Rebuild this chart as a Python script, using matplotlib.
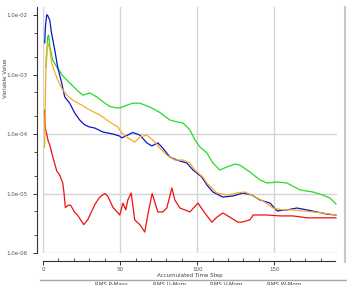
import matplotlib
matplotlib.use("Agg")
import matplotlib.pyplot as plt
from matplotlib.lines import Line2D
import numpy as np

# ---- data ----
p_mass_x = [1.0, 1.6, 2.6, 3.2, 4.4, 6.5, 8.9, 10.8, 12.8, 13.5, 14.5, 16.5, 18.0, 20.6, 22.5,
            26.4, 29.0, 33.6, 36.8, 40.1, 42.1, 45.3, 49.8, 51.8, 53.7, 55.0, 57.2, 59.5, 62.8,
            66.0, 68.2, 70.8, 74.5, 77.7, 80.3, 83.6, 85.5, 88.8, 95.3, 100.5, 105.0, 109.5,
            112.8, 116.7, 121.2, 126.4, 129.0, 134.2, 135.5, 136.2, 145.3, 153.8, 162.1, 171.2,
            179.7, 190.0]
p_mass_y = [2.5e-4, 1.2e-4, 9.6e-5, 7.9e-5, 6.5e-5, 4.0e-5, 2.4e-5, 2.05e-5, 1.5e-5, 1.1e-5,
            5.8e-6, 6.4e-6, 6.3e-6, 4.8e-6, 4.3e-6, 3.0e-6, 3.6e-6, 6.5e-6, 8.7e-6, 1.0e-5,
            8.9e-6, 5.9e-6, 4.35e-6, 6.9e-6, 5.3e-6, 7.8e-6, 1.02e-5, 3.6e-6, 3.0e-6, 2.25e-6,
            4.7e-6, 1.0e-5, 4.9e-6, 4.9e-6, 5.7e-6, 1.24e-5, 7.8e-6, 5.7e-6, 4.9e-6, 6.9e-6,
            4.7e-6, 3.3e-6, 4.0e-6, 4.7e-6, 4.0e-6, 3.3e-6, 3.3e-6, 3.6e-6, 4.0e-6, 4.35e-6,
            4.35e-6, 4.2e-6, 4.2e-6, 3.9e-6, 3.9e-6, 3.9e-6]

u_mom_x = [2.0, 2.6, 3.0, 3.7, 4.4, 6.3, 8.9, 12.8, 17.3, 21.9, 25.8, 30.3, 34.9, 38.8, 43.3,
           47.9, 49.8, 53.7, 58.2, 62.8, 69.3, 75.8, 82.3, 86.8, 90.8, 95.3, 98.5, 101.8, 106.3,
           110.2, 114.7, 119.3, 124.5, 127.7, 134.2, 140.7, 145.3, 151.8, 158.2, 166.7, 175.1,
           181.6, 186.2, 190.0]
u_mom_y = [1.3e-3, 2.5e-3, 4.3e-3, 4.6e-3, 3.0e-3, 1.75e-3, 1.34e-3, 9.5e-4, 7.2e-4, 5.5e-4,
           4.5e-4, 4.9e-4, 4.2e-4, 3.5e-4, 2.9e-4, 2.74e-4, 2.74e-4, 3.0e-4, 3.3e-4, 3.3e-4,
           2.84e-4, 2.3e-4, 1.72e-4, 1.6e-4, 1.53e-4, 1.17e-4, 8.0e-5, 6.05e-5, 4.8e-5, 3.26e-5,
           2.48e-5, 2.79e-5, 3.13e-5, 3.0e-5, 2.3e-5, 1.69e-5, 1.5e-5, 1.56e-5, 1.5e-5, 1.15e-5,
           1.06e-5, 9.4e-6, 8.4e-6, 6.7e-6]

v_mom_x = [1.1, 1.6, 2.4, 2.9, 4.4, 5.5, 7.6, 9.5, 12.1, 14.1, 17.3, 20.6, 23.8, 27.1, 30.3,
           33.6, 38.8, 45.3, 49.8, 51.1, 55.0, 58.2, 62.8, 67.3, 70.6, 74.5, 77.7, 82.3, 86.8,
           93.3, 97.3, 103.0, 106.3, 110.2, 116.7, 123.2, 129.7, 135.5, 140.7, 147.3, 151.8,
           158.2, 164.7, 171.2, 177.7, 184.2, 190.0]
v_mom_y = [3.4e-3, 6.5e-3, 1.0e-2, 1.0e-2, 8.2e-3, 5.0e-3, 2.6e-3, 1.34e-3, 7.2e-4, 4.2e-4,
           3.3e-4, 2.25e-4, 1.72e-4, 1.42e-4, 1.31e-4, 1.26e-4, 1.08e-4, 1.0e-4, 9.2e-5, 8.6e-5,
           9.6e-5, 1.06e-4, 9.6e-5, 7.1e-5, 6.3e-5, 7.1e-5, 5.8e-5, 4.1e-5, 3.65e-5, 3.26e-5,
           2.48e-5, 1.89e-5, 1.39e-5, 1.06e-5, 8.7e-6, 9.1e-6, 1.02e-5, 9.4e-6, 7.8e-6, 6.9e-6,
           5.1e-6, 5.3e-6, 5.7e-6, 5.3e-6, 4.9e-6, 4.5e-6, 4.35e-6]

w_mom_x = [1.0, 2.0, 3.2, 4.4, 5.6, 7.6, 9.5, 12.1, 15.4, 19.3, 25.1, 30.3, 36.8, 43.3, 48.5,
           51.1, 55.0, 57.5, 59.5, 62.8, 67.3, 71.2, 75.8, 80.3, 85.5, 90.8, 95.3, 98.5, 103.7,
           106.3, 112.8, 119.3, 125.8, 131.0, 136.2, 142.7, 149.2, 155.6, 162.1, 168.6, 175.1,
           181.6, 190.0]
w_mom_y = [6.0e-5, 2.0e-3, 3.4e-3, 2.6e-3, 1.56e-3, 1.1e-3, 8.1e-4, 5.9e-4, 4.5e-4, 3.7e-4,
           3.07e-4, 2.53e-4, 2.09e-4, 1.59e-4, 1.31e-4, 1.04e-4, 8.6e-5, 7.9e-5, 7.3e-5, 8.9e-5,
           9.6e-5, 7.9e-5, 5.8e-5, 4.4e-5, 3.65e-5, 3.65e-5, 3.26e-5, 2.48e-5, 1.89e-5, 1.5e-5,
           1.02e-5, 9.4e-6, 1.02e-5, 1.06e-5, 9.1e-6, 7.5e-6, 5.7e-6, 5.3e-6, 5.3e-6, 5.1e-6,
           4.9e-6, 4.7e-6, 4.35e-6]

series_names = ["RMS P-Mass", "RMS U-Mom", "RMS V-Mom", "RMS W-Mom"]
series_colors = ["#ee1111", "#22dd22", "#1111cc", "#f2b020"]
x_ticks = [0, 50, 100, 150]
y_ticks = [1e-6, 1e-5, 1e-4, 1e-3, 1e-2]
y_tick_labels = ["1.0e-06", "1.0e-05", "1.0e-04", "1.0e-03", "1.0e-02"]
y_grid = [1e-6, 1e-5, 1e-4]

W, H = 347, 285
fig = plt.figure(figsize=(W / 100, H / 100), dpi=100)
fig.patch.set_facecolor("white")

def fx(px):
    return px / W

def fy(py):
    return 1 - py / H

ax = fig.add_axes([fx(43), fy(253), fx(337) - fx(43), fy(7) - fy(253)])
ax.set_yscale("log")
ax.set_xlim(0, 190.7)
ax.set_ylim(1e-6, 1.363e-2)

# grid
for xv in x_ticks:
    ax.axvline(xv, color="#d4d4d4", lw=1.0, zorder=0)
for yv in y_grid:
    ax.axhline(yv, color="#d4d4d4", lw=1.0, zorder=0)

xs = [p_mass_x, u_mom_x, v_mom_x, w_mom_x]
ys = [p_mass_y, u_mom_y, v_mom_y, w_mom_y]
for x, y, c, n in zip(xs, ys, series_colors, series_names):
    ax.plot(x, y, color=c, lw=0.9, label=n, zorder=3)

# spines
for s in ["top", "right"]:
    ax.spines[s].set_visible(False)
ax.spines["left"].set_position(("outward", 4))
ax.spines["bottom"].set_position(("outward", 6))
ax.spines["left"].set_bounds(1e-6, 1.363e-2)
ax.spines["bottom"].set_bounds(0, 189.4)
for s in ["left", "bottom"]:
    ax.spines[s].set_color("#333333")
    ax.spines[s].set_linewidth(0.8)

ax.set_yticks(y_ticks)
ax.set_yticklabels(y_tick_labels)
ax.yaxis.set_minor_locator(matplotlib.ticker.LogLocator(base=10, subs=[2.0, 5.0]))
ax.yaxis.set_minor_formatter(matplotlib.ticker.NullFormatter())
ax.set_xticks(x_ticks)
ax.set_xticks(np.arange(10, 190, 10), minor=True)
ax.tick_params(axis="y", which="major", length=3, width=0.7, color="#333333",
               labelsize=4.0, labelcolor="#555555", pad=4)
ax.tick_params(axis="y", which="minor", length=2.5, width=0.6, color="#333333")
ax.tick_params(axis="x", which="major", length=3, width=0.7, color="#333333",
               labelsize=4.0, labelcolor="#555555", pad=0.8)
ax.tick_params(axis="x", which="minor", direction="in", length=2.5, width=0.6, color="#333333")

fig.text(fx(190), fy(275.5), "Accumulated Time Step", fontsize=4.0, color="#444444",
         ha="center", va="center")
fig.text(fx(5.5), fy(78), "Variable Value", fontsize=4.0, color="#444444",
         ha="center", va="center", rotation=90)

# right border and legend frame
fig.add_artist(Line2D([fx(345), fx(345)], [fy(7), fy(262)], color="#c8c8c8", lw=1.5))
fig.add_artist(Line2D([fx(40), fx(347)], [fy(280), fy(280)], color="#a8a8a8", lw=1.0))
for px, n in zip([95, 153, 210, 267], series_names):
    fig.text(fx(px), fy(282.5), n, fontsize=4.0, color="#444444", ha="left", va="top")

fig.savefig("out.png", dpi=100, facecolor="white")
